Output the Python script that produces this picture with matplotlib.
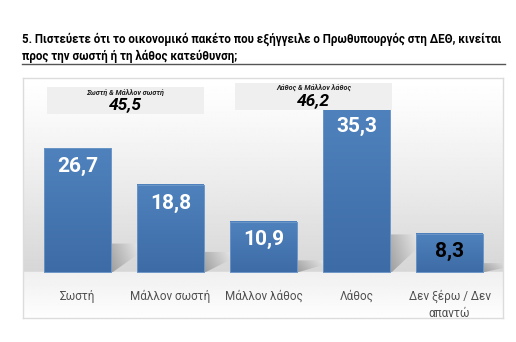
import matplotlib
matplotlib.use('Agg')
import matplotlib.pyplot as plt
from matplotlib.patches import Rectangle, Polygon
import numpy as np

plt.rcParams['font.family'] = ['Roboto', 'DejaVu Sans']

title = ('5. Πιστεύετε ότι το οικονομικό πακέτο που εξήγγειλε ο Πρωθυπουργός στη ΔΕΘ, κινείται\n'
         'προς την σωστή ή τη λάθος κατεύθυνση;')
categories = ['Σωστή', 'Μάλλον σωστή', 'Μάλλον λάθος', 'Λάθος', 'Δεν ξέρω / Δεν\nαπαντώ']
values = [26.7, 18.8, 10.9, 35.3, 8.3]
label_colors = ['white', 'white', 'white', 'white', 'black']
group_labels = ['Σωστή & Μάλλον σωστή', 'Λάθος & Μάλλον λάθος']
group_totals = [45.5, 46.2]

W, H = 516, 342
fig = plt.figure(figsize=(W / 100, H / 100), dpi=100)
fig.patch.set_facecolor('white')

# panel in pixel terms: x 23..503, y 78..318 (from top)
ax = fig.add_axes([23 / W, (H - 318) / H, 480 / W, 240 / H])
ymin, ymax = -9.94, 41.9
xmin, xmax = -0.586, 4.575
ax.set_xlim(xmin, xmax)
ax.set_ylim(ymin, ymax)
ax.set_xticks([])
ax.set_yticks([])
for s in ax.spines.values():
    s.set_color('#dcdcdc')
    s.set_linewidth(1.0)

# background: grey wall fading up to white, light floor below the baseline
n = 400
ys = np.linspace(ymax, ymin, n)
wall = 1.0 - 0.16 * np.clip(1 - ys / ymax, 0, 1) ** 1.2
floor = 0.94 + 0.055 * np.clip(ys / ymin, 0, 1)
shade = np.where(ys >= 0, wall, floor)
bg = np.repeat(shade[:, None], 2, axis=1)
ax.imshow(bg, cmap='gray', vmin=0, vmax=1, aspect='auto',
          extent=[xmin, xmax, ymin, ymax], zorder=0, interpolation='bilinear')

width = 0.72
x = np.arange(len(values))

# soft floor shadows to the right of each bar
px_x = 93.0
for xi, v in zip(x, values):
    right = xi + width / 2
    sh = v * 0.23
    dx = 26 / px_x
    poly = Polygon([(right, 0), (right, sh), (right + dx, sh),
                    (right + dx, sh * 0.6), (right + 2 / px_x, 0)],
                   closed=True, facecolor='none', edgecolor='none')
    ax.add_patch(poly)
    gx = np.linspace(0, 1, 60)
    gy = np.linspace(0, 1, 30)
    GX, GY = np.meshgrid(gx, gy)
    dark = 0.62 + 0.2 * GX + 0.08 * GY
    im = ax.imshow(dark, cmap='gray', vmin=0, vmax=1, aspect='auto',
                   extent=[right, right + dx, 0, sh], origin='lower',
                   zorder=1, interpolation='bilinear')
    im.set_clip_path(poly)

bars = ax.bar(x, values, width, color='#4a7cb9', edgecolor='#6b96c9',
              linewidth=0.6, zorder=2)

# vertical gradient on each bar
grad = np.linspace(0, 1, 100)[:, None]
top_c = np.array([0.31, 0.51, 0.74])
bot_c = np.array([0.24, 0.42, 0.65])
for bar in bars:
    bx, bw, bh = bar.get_x(), bar.get_width(), bar.get_height()
    rgb = bot_c + (top_c - bot_c) * grad
    img = np.repeat(rgb[:, None, :], 2, axis=1)
    ax.imshow(img, aspect='auto', extent=[bx, bx + bw, 0, bh], origin='lower',
              zorder=2.5, interpolation='bilinear')
    ax.add_patch(Rectangle((bx, 0), bw, bh, facecolor='none',
                           edgecolor='#6f98c8', linewidth=0.6, zorder=2.6))

for bar, v, c in zip(bars, values, label_colors):
    ax.annotate(f'{v:.1f}'.replace('.', ','),
                xy=(bar.get_x() + bar.get_width() / 2, v),
                xytext=(0, -13), textcoords='offset points',
                ha='center', va='center', fontsize=15, fontweight='bold',
                color=c, zorder=3)

for xi, cat in zip(x, categories):
    ax.text(xi, -3.9, cat, ha='center', va='top', fontsize=8.4,
            color='#505050', linespacing=1.35, zorder=3)

# group total callouts
boxes = [(47, 87, 204, 114), (235, 83, 392, 110)]
for (x0, y0, x1, y1), lab, tot in zip(boxes, group_labels, group_totals):
    fig.patches.append(Rectangle((x0 / W, 1 - y1 / H), (x1 - x0) / W,
                                 (y1 - y0) / H, transform=fig.transFigure,
                                 facecolor='#efefef', edgecolor='none', zorder=5))
    cx = (x0 + x1) / 2 / W
    fig.text(cx, 1 - (y0 + 5.5) / H, lab, ha='center', va='center',
             fontsize=5.2, fontstyle='italic', fontweight='bold', color='#222222',
             zorder=6)
    fig.text(cx, 1 - (y0 + 18) / H, f'{tot:.1f}'.replace('.', ','),
             ha='center', va='center', fontsize=12.5, fontstyle='italic',
             fontweight='bold', color='black', zorder=6)

fig.text(22 / W, 1 - 48 / H, title, ha='left', va='center', fontsize=8.3,
         fontweight='bold', color='black', linespacing=1.38)
fig.add_artist(plt.Line2D([22 / W, 505 / W], [1 - 63.5 / H, 1 - 63.5 / H],
                          transform=fig.transFigure, color='#555555',
                          linewidth=1.0))

fig.savefig('out.png', dpi=100)
